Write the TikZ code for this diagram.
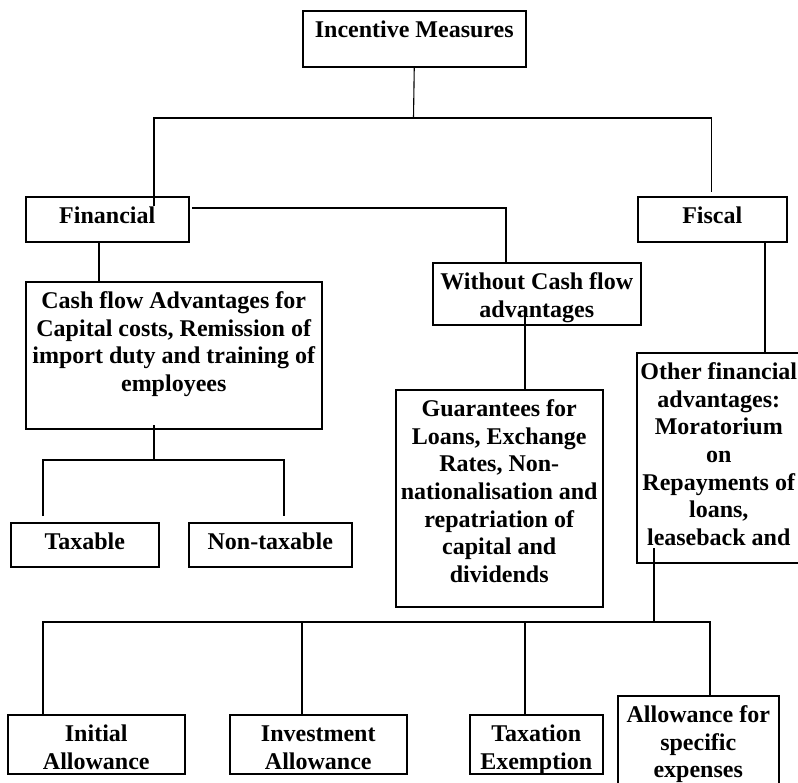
\documentclass[tikz,border=0pt]{standalone}
\usepackage{fontspec}
\setmainfont{Liberation Serif}

\tikzset{
  cell/.style={draw, line width=1.5pt, anchor=north west, inner sep=0pt,
    font=\bfseries\fontsize{24}{27.6}\selectfont},
  link/.style={line width=1.1pt}
}
\newcommand{\celltext}[3]{\parbox[t][#2pt][t]{#1pt}{\centering\rule{0pt}{27pt}#3}}

\begin{document}
\begin{tikzpicture}[x=1pt, y=-1pt]
  \useasboundingbox (0,0) rectangle (798,782);
  \clip (0,0) rectangle (798,782);

  \node[cell] (im) at (302,10) {\celltext{223}{56}{Incentive Measures}};
  \node[cell] (fin) at (25,196) {\celltext{163}{45}{Financial}};
  \node[cell] (fis) at (637,196) {\celltext{149}{45}{Fiscal}};
  \node[cell] (wc) at (432,262) {\celltext{208}{62}{Without Cash flow\\advantages}};
  \node[cell] (cf) at (25,281) {\celltext{296}{147}{Cash flow Advantages for\\Capital costs, Remission of\\import duty and training of\\employees}};
  \node[cell] (of) at (636,352) {\celltext{164}{210}{Other financial\\advantages:\\Moratorium\\on\\Repayments of\\loans,\\leaseback and}};
  \node[cell] (gu) at (395,389) {\celltext{207}{217}{Guarantees for\\Loans, Exchange\\Rates, Non-\\nationalisation and\\repatriation of\\capital and\\dividends}};
  \node[cell] (tx) at (10,522) {\celltext{148}{44}{Taxable}};
  \node[cell] (nt) at (188,522) {\celltext{163}{44}{Non-taxable}};
  \node[cell] (ia) at (7,714) {\celltext{177}{59}{Initial\\Allowance}};
  \node[cell] (iv) at (229,714) {\celltext{177}{59}{Investment\\Allowance}};
  \node[cell] (te) at (469,714) {\celltext{133}{59}{Taxation\\Exemption}};
  \node[cell] (as) at (617,695) {\celltext{161}{100}{Allowance for\\specific\\expenses}};

  \coordinate (imfork) at (413.5,118);
  \coordinate (finin) at (154,206);
  \coordinate (fisend) at (711.5,192);
  \coordinate (finout) at (192,208);
  \coordinate (wccol) at (506,0);
  \coordinate (wcin) at (525,316);
  \coordinate (ofcol) at (765,0);
  \coordinate (cfcol) at (99,0);
  \coordinate (cfin) at (154,425);
  \coordinate (cffork) at (154,460);
  \coordinate (txend) at (43,516);
  \coordinate (ntend) at (284,516);
  \coordinate (ofin) at (654,548);
  \coordinate (offork) at (654,622);
  \coordinate (iacol) at (43,0);
  \coordinate (ivcol) at (302,0);
  \coordinate (tecol) at (525,0);
  \coordinate (ascol) at (710,0);

  \draw[link] (im.south) -- (imfork);
  \draw[link] (finin) |- (imfork) -| (fisend);
  \draw[link] (finout) -| (wc.north -| wccol);
  \draw[link] (wcin) -- (gu.north -| wcin);
  \draw[link] (fis.south -| ofcol) -- (of.north -| ofcol);
  \draw[link] (fin.south -| cfcol) -- (cf.north -| cfcol);

  \draw[link] (cfin) -- (cffork);
  \draw[link] (txend) |- (cffork) -| (ntend);

  \draw[link] (ofin) -- (offork);
  \draw[link] (ia.north -| iacol) |- (offork) -| (as.north -| ascol);
  \draw[link] (iv.north -| ivcol) -- (ivcol |- offork);
  \draw[link] (te.north -| tecol) -- (tecol |- offork);
\end{tikzpicture}
\end{document}
